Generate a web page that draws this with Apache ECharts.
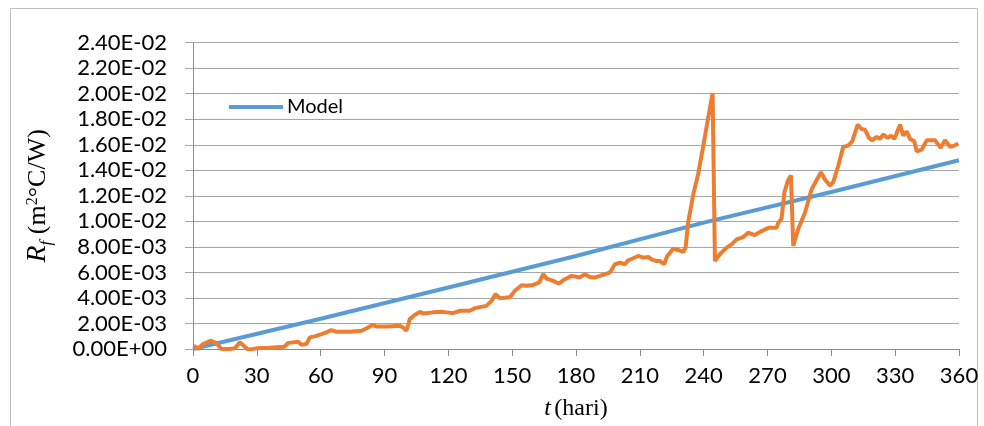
<!DOCTYPE html>
<html>
<head>
<meta charset="utf-8">
<script src="https://cdn.jsdelivr.net/npm/echarts@6/dist/echarts.min.js"></script>
<style>
html,body{margin:0;padding:0;background:#fff;}
#chart{width:984px;height:426px;}
</style>
</head>
<body>
<div id="chart"></div>
<script>
// Values of R_f are read in units of 1e-3 m2°C/W
const UNIT = 1e-3;
const modelDays = [0, 60, 120, 180, 240, 300, 360];
const modelValues = [0, 2.37, 4.82, 7.29, 9.9, 12.3, 14.79];

const expDays = [0.3, 2.4, 4.7, 8.2, 10.2, 11.8, 13.3, 17.3, 19.6, 22, 23.5, 25.9, 29.8, 36, 43, 44.7, 47, 47.8, 49.4, 51, 53.3, 54.9, 57.2, 60.4, 62.7, 65, 67.4, 73.7, 79.2, 82.3, 84.3, 86.2, 91.7, 97.2, 98.7, 100.3, 101.9, 104.2, 106.6, 108.1, 112.8, 117.5, 122.2, 125.4, 130.1, 132.4, 137.9, 140.3, 142.2, 144.2, 148.9, 151.2, 154.4, 156.7, 159.9, 162.7, 164.6, 166.2, 169.3, 171.9, 174.8, 177.9, 181.8, 184.2, 186.5, 188.8, 191.2, 195.9, 198.3, 200.6, 203, 204.5, 206.9, 209.2, 211.6, 213.9, 215.5, 217.5, 219.4, 221.4, 222.9, 225.7, 228, 230.4, 231.5, 232.7, 235.1, 237.4, 239.8, 242.1, 244.2, 245.3, 247.6, 250.8, 253.1, 255.5, 258.6, 260.9, 264.1, 267.2, 270.7, 274.3, 275.1, 276.6, 277.9, 279.5, 281, 282.1, 284.4, 287.6, 290.7, 295.1, 297, 299.3, 300.9, 303.2, 305.6, 307.9, 309.8, 312.4, 314.2, 315.8, 317.7, 319.2, 321.3, 322.8, 324.4, 326.5, 328, 329.6, 332.3, 333.8, 335.4, 337, 339, 340.1, 342.5, 344.8, 348.7, 351.4, 353.4, 355.8, 357.8, 359.7];
const expValues = [0.26, 0, 0.39, 0.65, 0.52, 0.31, 0, 0, 0.05, 0.52, 0.31, -0.05, 0.05, 0.1, 0.18, 0.47, 0.52, 0.39, 0.57, 0.34, 0.39, 0.91, 0.99, 1.17, 1.3, 1.48, 1.35, 1.35, 1.43, 1.69, 1.88, 1.77, 1.77, 1.82, 1.69, 1.43, 2.34, 2.66, 2.91, 2.79, 2.87, 2.91, 2.81, 2.99, 2.99, 3.2, 3.38, 3.77, 4.3, 3.98, 4.06, 4.55, 5.0, 4.95, 5.02, 5.21, 5.86, 5.52, 5.34, 5.13, 5.47, 5.73, 5.6, 5.86, 5.65, 5.6, 5.73, 5.99, 6.64, 6.77, 6.64, 6.95, 7.11, 7.29, 7.16, 7.21, 7.03, 6.9, 6.9, 6.64, 7.29, 7.86, 7.76, 7.6, 7.94, 9.9, 12.1, 13.7, 15.9, 18.1, 20.05, 6.9, 7.42, 7.94, 8.2, 8.59, 8.77, 9.11, 8.93, 9.24, 9.51, 9.51, 9.9, 10.21, 12.24, 13.15, 13.6, 8.07, 9.38, 10.68, 12.5, 13.85, 13.28, 12.81, 13.07, 14.32, 15.84, 15.94, 16.27, 17.58, 17.24, 17.19, 16.54, 16.35, 16.62, 16.46, 16.8, 16.54, 16.72, 16.46, 17.58, 16.72, 17.05, 16.46, 16.27, 15.49, 15.63, 16.35, 16.35, 15.76, 16.35, 15.84, 15.94, 16.09];

const yTicks = {min: 0, max: 0.024, interval: 0.002};
const xTicks = {min: 0, max: 360, interval: 30};

function sci(v) {
  if (Math.abs(v) < 1e-12) return '0.00E+00';
  let e = Math.floor(Math.log10(Math.abs(v)) + 1e-9);
  let m = v / Math.pow(10, e);
  if (Math.abs(m) >= 9.995) { m /= 10; e += 1; }
  return m.toFixed(2) + 'E' + (e < 0 ? '-' : '+') + String(Math.abs(e)).padStart(2, '0');
}

const pair = (xs, ys) => xs.map((x, i) => [x, ys[i] * UNIT]);

const chart = echarts.init(document.getElementById('chart'));
const axisGray = '#8c8c8c';
const gridGray = '#a6a6a6';
chart.setOption({
  animation: false,
  backgroundColor: '#fff',
  graphic: [{
    type: 'rect', left: 8, top: 6,
    shape: {width: 967, height: 419},
    style: {fill: 'none', stroke: '#bfbfbf', lineWidth: 1}
  }],
  grid: {left: 193, right: 25, top: 42.7, bottom: 76, containLabel: false},
  legend: {
    data: ['Model'], left: 229, top: 97, padding: 0,
    icon: 'rect', itemWidth: 54, itemHeight: 4, itemGap: 10,
    textStyle: {fontFamily: 'Lato', fontSize: 20, color: '#000', lineHeight: 20, padding: [0, 0, 0, -1]}
  },
  xAxis: {
    type: 'value', min: xTicks.min, max: xTicks.max, interval: xTicks.interval,
    name: '{i|t} {n|(hari)}', nameLocation: 'middle', nameGap: 48,
    nameTextStyle: {
      rich: {
        i: {fontFamily: 'Liberation Serif', fontStyle: 'italic', fontSize: 24, color: '#000'},
        n: {fontFamily: 'Liberation Serif', fontSize: 24, color: '#000'}
      }
    },
    axisLine: {show: true, lineStyle: {color: axisGray, width: 1}},
    axisTick: {show: true, inside: false, length: 7, lineStyle: {color: axisGray}},
    axisLabel: {fontFamily: 'Lato', fontSize: 22, color: '#000', margin: 16},
    splitLine: {show: false}
  },
  yAxis: {
    type: 'value', min: yTicks.min, max: yTicks.max, interval: yTicks.interval,
    name: '{i|R}{s|f}{n| (m}{p|2}{n|°C/W)}', nameLocation: 'middle', nameGap: 138, nameRotate: 90,
    nameTextStyle: {
      rich: {
        i: {fontFamily: 'Liberation Serif', fontStyle: 'italic', fontSize: 28, color: '#000', lineHeight: 34},
        s: {fontFamily: 'Liberation Serif', fontStyle: 'italic', fontSize: 17, color: '#000', verticalAlign: 'bottom', padding: [0, 0, 0, 0]},
        n: {fontFamily: 'Liberation Serif', fontSize: 26, color: '#000', lineHeight: 34},
        p: {fontFamily: 'Liberation Serif', fontSize: 16, color: '#000', verticalAlign: 'top', padding: [4, 0, 0, 0]}
      }
    },
    axisLine: {show: true, lineStyle: {color: axisGray, width: 1}},
    axisTick: {show: true, inside: false, length: 8, lineStyle: {color: gridGray}},
    axisLabel: {fontFamily: 'Lato', fontSize: 22, color: '#000', margin: 26, formatter: sci},
    splitLine: {show: true, lineStyle: {color: gridGray, width: 1}}
  },
  series: [
    {
      name: 'Model', type: 'line', data: pair(modelDays, modelValues),
      showSymbol: false, symbol: 'none',
      lineStyle: {color: '#5B9BD5', width: 4}, itemStyle: {color: '#5B9BD5'}, z: 2
    },
    {
      name: 'Eksperimen', type: 'line', data: pair(expDays, expValues),
      showSymbol: false, symbol: 'none',
      lineStyle: {color: '#ED7D31', width: 4}, itemStyle: {color: '#ED7D31'}, z: 3
    }
  ]
});
</script>
</body>
</html>
